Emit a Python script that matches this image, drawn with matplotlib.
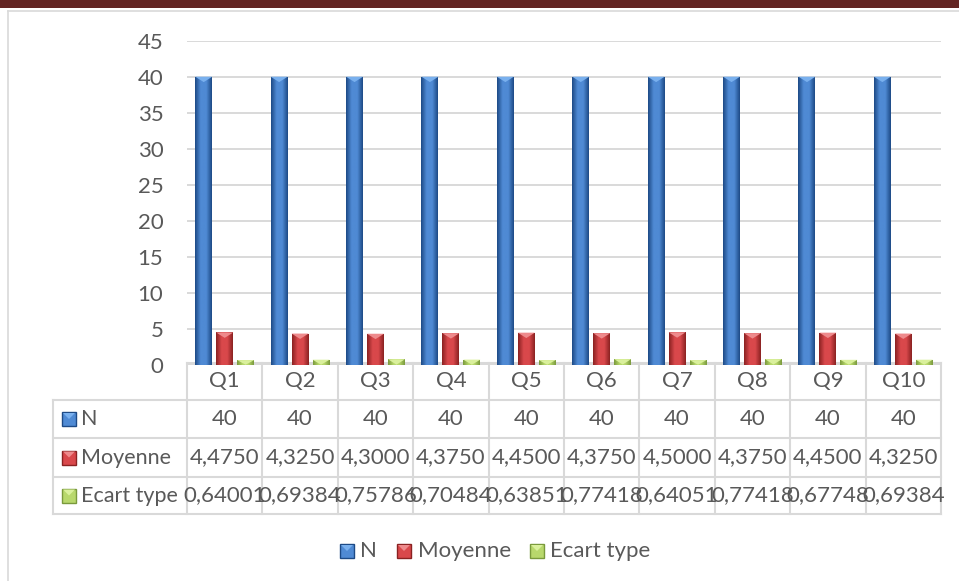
import numpy as np
import matplotlib.pyplot as plt
from matplotlib.patches import Rectangle, Polygon
from matplotlib.colors import LinearSegmentedColormap

# data
questions = ["Q1", "Q2", "Q3", "Q4", "Q5", "Q6", "Q7", "Q8", "Q9", "Q10"]
n_values = [40, 40, 40, 40, 40, 40, 40, 40, 40, 40]
moyenne = [4.4750, 4.3250, 4.3000, 4.3750, 4.4500, 4.3750, 4.5000, 4.3750, 4.4500, 4.3250]
ecart_type = [0.64001, 0.69384, 0.75786, 0.70484, 0.63851, 0.77418, 0.64051, 0.77418, 0.67748, 0.69384]
series_names = ["N", "Moyenne", "Ecart type"]
y_ticks = [0, 5, 10, 15, 20, 25, 30, 35, 40, 45]

def fmt(v, d):
    if d == 0:
        return str(int(v))
    return f"{v:.{d}f}".replace(".", ",")

series = [n_values, moyenne, ecart_type]
decimals = [0, 4, 5]
# (dark edge, light centre, top bevel)
palettes = [("#1d4a86", "#4f8ad4", "#79b0ee"),
            ("#8a2222", "#d9484b", "#ee8a8c"),
            ("#7a9a3c", "#b8d86c", "#daf09c")]

txt = "#595959"
grid_c = "#d9d9d9"
font = "Lato"
fs = 16

W, H = 959, 581
fig = plt.figure(figsize=(W / 100, H / 100), dpi=100)

# pixel overlay for frame, table and legend
ov = fig.add_axes([0, 0, 1, 1], zorder=0)
ov.set_xlim(0, W)
ov.set_ylim(H, 0)
ov.axis("off")
ov.add_patch(Rectangle((0, 0), W, 8, color="#632523", lw=0))
ov.plot([8, W], [11, 11], color="#d9d9d9", lw=1.2)
ov.plot([8, 8], [11, H], color="#d9d9d9", lw=1.2)

# bar axes
left, right, top, bottom = 187, 941, 40.7, 364.7
ax = fig.add_axes([left / W, 1 - bottom / H, (right - left) / W, (bottom - top) / H], zorder=1)
ax.patch.set_alpha(0)

x = np.arange(len(questions))
bw = 0.225
offs = [-0.278, 0, 0.278]
for vals, off, (dark, light, bevel) in zip(series, offs, palettes):
    cmap = LinearSegmentedColormap.from_list("g", [dark, light, light, dark])
    grad = np.linspace(0, 1, 64).reshape(1, -1)
    for xi, v in zip(x, vals):
        x0 = xi + off - bw / 2
        bar = Rectangle((x0, 0), bw, v, facecolor=light, edgecolor="none", zorder=2)
        ax.add_patch(bar)
        im = ax.imshow(grad, extent=[x0, x0 + bw, 0, v], aspect="auto", cmap=cmap, zorder=2)
        im.set_clip_path(bar)
        d = min(0.75, v)
        ax.add_patch(Polygon([(x0, v), (x0 + bw, v), (x0 + bw / 2, v - d)],
                             closed=True, facecolor=bevel, edgecolor="none", zorder=3))

ax.set_xlim(-0.5, len(questions) - 0.5)
ax.set_ylim(0, 45)
ax.set_yticks(y_ticks)
ax.set_xticks([])
ax.grid(axis="y", color=grid_c, lw=1.4)
ax.set_axisbelow(True)
for s in ax.spines.values():
    s.set_visible(False)
ax.tick_params(axis="y", length=0, pad=17, labelsize=fs, labelcolor=txt)
for lab in ax.get_yticklabels():
    lab.set_fontfamily(font)

# data table
col_w = (right - left) / len(questions)
rows_y = [363, 400, 438, 477, 514]
lc = "#d9d9d9"
tleft = 53
# horizontal lines
ov.plot([left, right], [rows_y[0], rows_y[0]], color=lc, lw=1.5)
for yy in rows_y[1:]:
    ov.plot([tleft, right], [yy, yy], color=lc, lw=1.5)
# vertical lines
ov.plot([tleft, tleft], [rows_y[1], rows_y[-1]], color=lc, lw=1.5)
for i in range(len(questions) + 1):
    xx = left + i * col_w
    ov.plot([xx, xx], [rows_y[0], rows_y[-1]], color=lc, lw=1.5)

for i, q in enumerate(questions):
    cx = left + (i + 0.5) * col_w
    ov.text(cx, (rows_y[0] + rows_y[1]) / 2, q, ha="center", va="center",
            fontsize=fs, color=txt, family=font)
    for r, (vals, d) in enumerate(zip(series, decimals)):
        cy = (rows_y[r + 1] + rows_y[r + 2]) / 2
        ov.text(cx, cy, fmt(vals[i], d), ha="center", va="center",
                fontsize=fs, color=txt, family=font)


def key(px, py, pal):
    dark, light, bevel = pal
    ov.add_patch(Rectangle((px, py - 7), 14, 14, facecolor=light, edgecolor=dark, lw=1))
    ov.add_patch(Polygon([(px + 1, py - 6), (px + 13, py - 6), (px + 7, py)],
                         closed=True, facecolor=bevel, edgecolor="none"))


for r, (name, pal) in enumerate(zip(series_names, palettes)):
    cy = (rows_y[r + 1] + rows_y[r + 2]) / 2
    key(62, cy, pal)
    ov.text(81, cy, name, ha="left", va="center", fontsize=fs - 0.5, color=txt, family=font)

# legend
leg_y = 551
leg_items = [(340, 360), (397, 418), (530, 550)]
for (kx, tx), name, pal in zip(leg_items, series_names, palettes):
    key(kx, leg_y, pal)
    ov.text(tx, leg_y, name, ha="left", va="center", fontsize=fs, color=txt, family=font)

fig.savefig("out.png", dpi=100)
